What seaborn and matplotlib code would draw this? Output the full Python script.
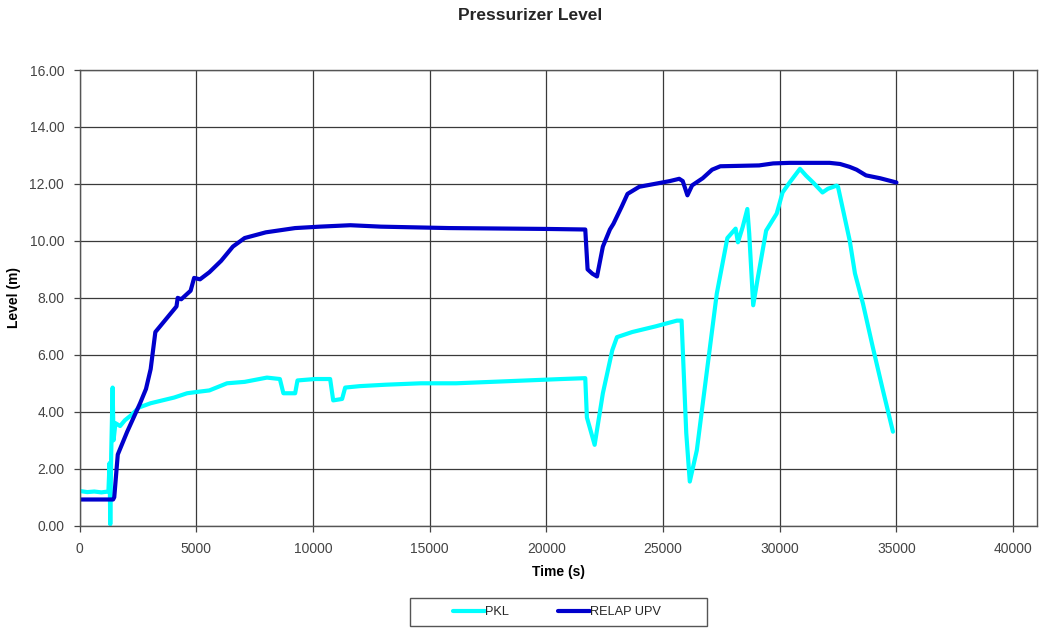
import matplotlib
matplotlib.use("Agg")
import matplotlib.pyplot as plt
import seaborn as sns
import pandas as pd
from matplotlib.ticker import FormatStrFormatter, MultipleLocator
from matplotlib.patches import Rectangle

# ---- data ----
relap_t = [0, 1439, 1489, 1640, 2043, 2596, 2848, 3049, 3250, 3653, 4056, 4156, 4207, 4358,
           4760, 4911, 5163, 5565, 6068, 6572, 7075, 7981, 9238, 10295, 11604, 12912,
           15830, 19957, 21668, 21768, 21969, 22171, 22422, 22724, 22875, 23227, 23478,
           23982, 24636, 25291, 25693, 25844, 26045, 26246, 26699, 27102, 27454, 29115,
           29719, 30423, 32134, 32587, 32990, 33292, 33695, 34299, 35000]
relap_y = [0.92, 0.92, 1.0, 2.5, 3.3, 4.3, 4.8, 5.5, 6.8, 7.2, 7.6, 7.7, 8.0, 7.95,
           8.25, 8.7, 8.65, 8.9, 9.3, 9.8, 10.1, 10.3, 10.45, 10.5, 10.55, 10.5,
           10.45, 10.42, 10.4, 9.0, 8.85, 8.75, 9.8, 10.4, 10.6, 11.2, 11.65,
           11.9, 12.0, 12.1, 12.18, 12.1, 11.6, 11.95, 12.2, 12.5, 12.62, 12.65,
           12.72, 12.74, 12.74, 12.7, 12.6, 12.5, 12.3, 12.2, 12.05]

pkl_t = [0, 332, 634, 936, 1238, 1288, 1318, 1358, 1419, 1459, 1540, 1741, 1942, 2244,
         2546, 3049, 3552, 4056, 4609, 5062, 5565, 6320, 7075, 8031, 8584, 8735, 9239,
         9339, 10094, 10738, 10869, 11251, 11382, 12006, 13113, 14623, 16132, 17642,
         19152, 20661, 21668, 21738, 22070, 22422, 22825, 23026, 23680, 24687, 25593,
         25794, 25995, 26146, 26448, 26901, 27303, 27756, 28109, 28209, 28410, 28612,
         28692, 28863, 29064, 29417, 29870, 30121, 30423, 30866, 31128, 31430, 31832,
         32063, 32436, 32496, 33000, 33222, 33564, 33986, 34419, 34850]
pkl_y = [1.22, 1.18, 1.2, 1.17, 1.2, 2.2, 0.05, 2.5, 4.85, 3.0, 3.6, 3.5, 3.7, 3.9,
         4.15, 4.3, 4.4, 4.5, 4.65, 4.7, 4.75, 5.0, 5.05, 5.2, 5.15, 4.65, 4.65,
         5.1, 5.15, 5.15, 4.4, 4.45, 4.85, 4.9, 4.95, 5.0, 5.0, 5.05,
         5.1, 5.15, 5.18, 3.8, 2.84, 4.65, 6.16, 6.62, 6.8, 7.0, 7.2,
         7.2, 3.25, 1.55, 2.65, 5.57, 8.15, 10.1, 10.43, 9.95, 10.48, 11.12,
         10.26, 7.74, 8.72, 10.36, 10.96, 11.7, 12.05, 12.53, 12.29, 12.05, 11.7,
         11.83, 11.94, 11.9, 10.0, 8.86, 7.8, 6.27, 4.76, 3.3]

title = "Pressurizer Level"
xlabel = "Time (s)"
ylabel = "Level (m)"
series_names = ["PKL", "RELAP UPV"]
colors = {"PKL": "#00FFFF", "RELAP UPV": "#0000CC"}

df = pd.concat([
    pd.DataFrame({"t": pkl_t, "y": pkl_y, "series": series_names[0]}),
    pd.DataFrame({"t": relap_t, "y": relap_y, "series": series_names[1]}),
])

sns.set_style("white")
plt.rcParams["font.family"] = ["Liberation Sans", "DejaVu Sans"]

W, H = 1039, 628
fig = plt.figure(figsize=(W / 100, H / 100), dpi=100)
ax = fig.add_axes([79.5 / W, 1 - 525.7 / H, (1036.5 - 79.5) / W, (525.7 - 70) / H])

sns.lineplot(data=df, x="t", y="y", hue="series", palette=colors, sort=False,
             estimator=None, linewidth=3.0, ax=ax, legend=True)

ax.set_xlim(0, 41000)
ax.set_ylim(0, 16)
ax.yaxis.set_major_locator(MultipleLocator(2))
ax.yaxis.set_major_formatter(FormatStrFormatter("%.2f"))
ax.set_xticks(range(0, 40001, 5000))
ax.grid(True, color="#3a3a3a", linewidth=0.9)
ax.set_axisbelow(True)
for s in ax.spines.values():
    s.set_color("#555555")
    s.set_linewidth(1.0)
ax.tick_params(axis="both", labelsize=10, colors="#444444", length=4, width=0.9,
               direction="out", left=True, bottom=True)
ax.tick_params(axis="y", pad=7)
ax.tick_params(axis="x", pad=8)
for lab in ax.get_xticklabels() + ax.get_yticklabels():
    lab.set_color("#444444")

ax.set_xlabel(xlabel, fontsize=10, fontweight="bold", labelpad=6, color="black")
ax.set_ylabel(ylabel, fontsize=10, fontweight="bold", labelpad=6, color="black")
fig.suptitle(title, x=0.51, y=1 - 15 / H, fontsize=12.5, fontweight="bold", va="center")

# legend box (drawn beneath the legend entries)
fig.add_artist(Rectangle((410 / W, 1 - 626 / H), (707 - 410) / W, (626 - 598) / H,
                         transform=fig.transFigure, fill=True, facecolor="white",
                         edgecolor="#555555", linewidth=1.0, zorder=-1))
handles, labels = ax.get_legend_handles_labels()
leg = ax.legend(handles, labels, ncol=2, loc="center",
                bbox_to_anchor=(557 / W, 1 - 612 / H), bbox_transform=fig.transFigure,
                frameon=False, fontsize=9.2,
                handlelength=2.5, handletextpad=0.05, columnspacing=3.8,
                borderpad=0.2, borderaxespad=0)
for line in leg.get_lines():
    line.set_linewidth(3.0)

fig.savefig("out.png", dpi=100)
